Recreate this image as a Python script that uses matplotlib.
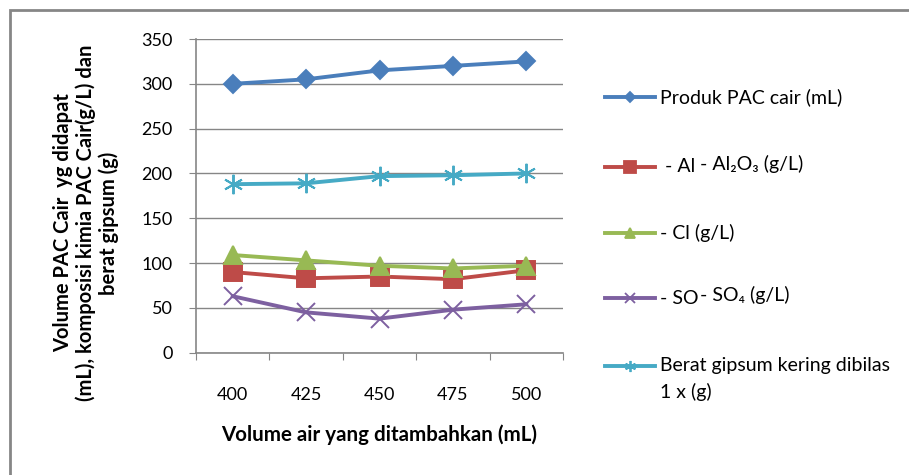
import matplotlib
matplotlib.use("Agg")
import matplotlib.pyplot as plt
from matplotlib.lines import Line2D
from matplotlib.patches import Rectangle

plt.rcParams["font.family"] = ["Lato", "DejaVu Sans"]

# data
volume_air = ["400", "425", "450", "475", "500"]
produk_pac = [300, 305, 315, 320, 325]
al2o3 = [90, 83, 85, 82, 92]
cl = [109, 103, 97, 94, 97]
so4 = [63, 45, 38, 48, 54]
gipsum = [188, 189, 197, 198, 200]

labels = ["Produk PAC cair (mL)", " - Al", "- Cl (g/L)", "- SO",
          "Berat gipsum kering dibilas\n1 x (g)"]
extra_labels = [None, "- Al\u2082O\u2083 (g/L)", None, "- SO\u2084 (g/L)", None]

values = [produk_pac, al2o3, cl, so4, gipsum]
colors = ["#4A7EBB", "#BE4B48", "#98B954", "#7D60A0", "#46AAC5"]
markers = ["D", "s", "^", "x", (6, 2, 0)]
msize = [9.5, 13, 13, 13, 14]
leg_msize = [5.5, 8.5, 7.5, 7, 8]

grey = "#868686"
W, H = 909, 475

fig = plt.figure(figsize=(W / 100, H / 100), dpi=100)
ax = fig.add_axes([196 / W, 1 - 352.7 / H, 367 / W, 313.7 / H])

x = range(len(volume_air))
for vals, col, mk, ms in zip(values, colors, markers, msize):
    ax.plot(x, vals, color=col, lw=2.8, marker=mk, markersize=ms,
            markerfacecolor=col, markeredgecolor=col, markeredgewidth=1.4,
            clip_on=False, zorder=3)

ax.set_ylim(0, 350)
ax.set_yticks(range(0, 351, 50))
ax.set_xlim(-0.5, len(volume_air) - 0.5)
ax.set_xticks([i - 0.5 for i in range(len(volume_air) + 1)])
ax.set_xticklabels([])
ax.set_xticks(list(x), minor=True)
ax.set_xticklabels(volume_air, minor=True)
ax.tick_params(axis="x", which="major", length=5, color=grey, direction="out")
ax.tick_params(axis="x", which="minor", length=0, pad=25, labelsize=13)
ax.tick_params(axis="y", length=5, color=grey, labelsize=13, pad=12)
ax.yaxis.grid(True, color=grey, lw=1)
ax.set_axisbelow(True)
for s in ["top", "right"]:
    ax.spines[s].set_visible(False)
for s in ["left", "bottom"]:
    ax.spines[s].set_color(grey)
    ax.spines[s].set_linewidth(1.2)

ax.set_xlabel("Volume air yang ditambahkan (mL)", fontsize=14.8,
              fontweight="bold", labelpad=15)
fig.text(86 / W, 1 - 223 / H,
         "Volume PAC Cair  yg didapat\n(mL), komposisi kimia PAC Cair(g/L) dan\nberat gipsum (g)",
         rotation=90, ha="center", va="center", fontsize=14.5,
         fontweight="bold", linespacing=1.12)

# legend, laid out like the Excel one (marker row on the first text line)
leg_y = [97, 167, 233, 298, 366]
for i, y in enumerate(leg_y):
    yf = 1 - y / H
    fig.add_artist(Line2D([605 / W, 630 / W, 655 / W], [yf, yf, yf],
                          transform=fig.transFigure, color=colors[i], lw=2.8,
                          marker=markers[i], markevery=[1],
                          markersize=leg_msize[i], markerfacecolor=colors[i],
                          markeredgecolor=colors[i], markeredgewidth=1.3))
    lab = labels[i].split("\n")
    fig.text(660 / W, yf, lab[0], fontsize=14, ha="left", va="center")
    if len(lab) > 1:
        fig.text(660 / W, 1 - (y + 26) / H, lab[1], fontsize=14, ha="left",
                 va="center")
    if extra_labels[i]:
        fig.text(700 / W, 1 - (y - 3) / H, extra_labels[i], fontsize=14,
                 ha="left", va="center")

# outer chart frame
fig.patches.append(Rectangle((10 / W, -0.1), 1.2, 1 - 10 / H + 0.1,
                             transform=fig.transFigure, fill=False,
                             edgecolor=grey, lw=2))

fig.savefig("out.png", dpi=100)
